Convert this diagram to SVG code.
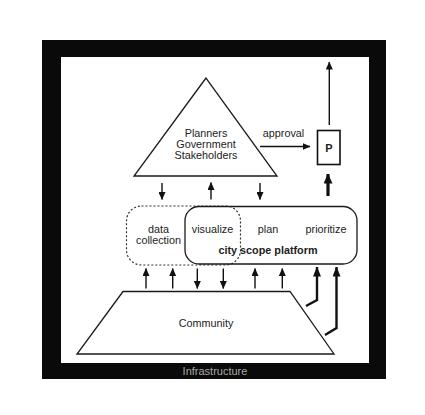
<svg xmlns="http://www.w3.org/2000/svg" width="425" height="415" viewBox="0 0 425 415">
<defs>
<style>
.t{font-family:"Liberation Sans",Arial,sans-serif;font-size:10.8px;fill:#222;text-anchor:middle}
.b{font-weight:bold}
.s{fill:none;stroke:#1a1a1a;stroke-width:1.3}
.a{fill:none;stroke:#111;stroke-width:1.4;marker-end:url(#ah)}
.ab{fill:none;stroke:#111;stroke-width:2.4;marker-end:url(#ah2)}
.at{fill:none;stroke:#111;stroke-width:3.2;marker-end:url(#ah3)}
</style>
<marker id="ah" markerUnits="userSpaceOnUse" markerWidth="8" markerHeight="7" refX="7.5" refY="3.5" orient="auto"><path d="M0,0 L8,3.5 L0,7 z" fill="#111"/></marker>
<marker id="ah2" markerUnits="userSpaceOnUse" markerWidth="10" markerHeight="8" refX="9.5" refY="4" orient="auto"><path d="M0,0 L10,4 L0,8 z" fill="#111"/></marker>
<marker id="ah3" markerUnits="userSpaceOnUse" markerWidth="10" markerHeight="9" refX="9.5" refY="4.5" orient="auto"><path d="M0,0 L10,4.5 L0,9 z" fill="#111"/></marker>
</defs>
<rect width="425" height="415" fill="#fff"/>
<g id="infrastructure">
<rect x="42" y="40" width="344" height="339" fill="#0a0a0a"/>
<rect x="61" y="57" width="308" height="306" fill="#fff"/>
<text class="t" x="215" y="375" style="fill:#a8a8a8;font-size:11px">Infrastructure</text>
</g>
<g id="planners">
<polygon class="s" points="206,78 134,176 277,176"/>
<text class="t" x="206" y="137">Planners</text>
<text class="t" x="206" y="148">Government</text>
<text class="t" x="206" y="159">Stakeholders</text>
</g>
<g id="p-box">
<rect x="317.5" y="130.5" width="22.5" height="34" fill="#fff" stroke="#111" stroke-width="1.6"/>
<text class="t b" x="328.8" y="151.5" style="font-size:11px">P</text>
</g>
<g id="data-collection">
<rect x="126.5" y="206" width="114" height="59" rx="15" fill="none" stroke="#333" stroke-width="1.2" stroke-dasharray="2,2"/>
<text class="t" x="158.5" y="233">data</text>
<text class="t" x="158.5" y="244">collection</text>
</g>
<g id="platform">
<rect x="185" y="206.5" width="172" height="57.5" rx="14" class="s"/>
<text class="t" x="212.5" y="233">visualize</text>
<text class="t" x="268" y="233">plan</text>
<text class="t" x="326" y="233">prioritize</text>
<text class="t b" x="268" y="254">city scope platform</text>
</g>
<g id="community">
<polygon class="s" points="123,291.5 290,291.5 334,354 77,354"/>
<text class="t" x="206" y="327">Community</text>
</g>
<g id="connectors">
<text class="t" x="283.5" y="137">approval</text>
<path class="a" d="M260,146.5 H310"/>
<path class="a" d="M329.3,125 V62"/>
<path class="at" d="M328,196 V174"/>
<path class="a" d="M162,183 V199.5"/>
<path class="a" d="M211,199.5 V182.5"/>
<path class="a" d="M260,183 V199.5"/>
<path class="a" d="M146,288.5 V268.5"/>
<path class="a" d="M172.7,288.5 V268.5"/>
<path class="a" d="M197.3,268.5 V288.5"/>
<path class="a" d="M223.3,268.5 V288.5"/>
<path class="a" d="M255,288.5 V268.5"/>
<path class="a" d="M282.3,288.5 V268.5"/>
<path class="ab" d="M306,306 L317,300 V267"/>
<path class="ab" d="M325,335 L336.5,328 V267"/>
</g>
</svg>
